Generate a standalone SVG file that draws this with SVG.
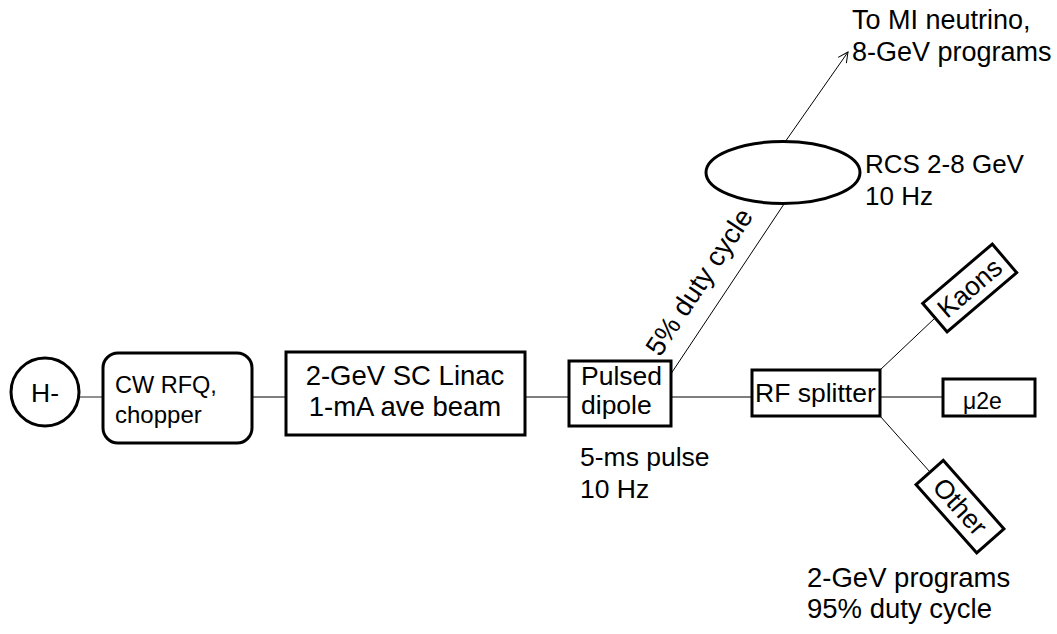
<svg xmlns="http://www.w3.org/2000/svg" width="1057" height="634" viewBox="0 0 1057 634">
<defs>
<style>
text{font-family:"Liberation Sans",Arial,sans-serif;font-size:26.5px;fill:#000}
.big{font-size:27.5px}
.box{fill:#fff;stroke:#000;stroke-width:3}
.ln{stroke:#555;stroke-width:1.3;fill:none}
.thin{stroke:#000;stroke-width:1;fill:none}
</style>
<marker id="arr" viewBox="0 0 12 12" refX="11" refY="6" markerWidth="12" markerHeight="12" markerUnits="userSpaceOnUse" orient="auto">
<path d="M1,1 L11,6 L1,11" fill="none" stroke="#000" stroke-width="1"/>
</marker>
</defs>
<rect width="1057" height="634" fill="#fff"/>
<g id="connectors">
<line class="ln" x1="79" y1="397" x2="103" y2="397"/>
<line class="ln" x1="252" y1="397" x2="286" y2="397"/>
<line class="ln" x1="525" y1="397" x2="569" y2="397"/>
<line class="ln" x1="671" y1="397" x2="752" y2="397"/>
<line class="ln" x1="880" y1="397" x2="943" y2="397"/>
<line class="thin" x1="671.5" y1="373" x2="784" y2="204"/>
<line class="thin" x1="785" y1="142" x2="848" y2="52" marker-end="url(#arr)"/>
<line class="thin" x1="880" y1="370" x2="935" y2="318"/>
<line class="thin" x1="880" y1="416" x2="930" y2="472"/>
</g>
<g id="h-minus">
<circle class="box" cx="45" cy="392" r="34"/>
<text x="45" y="402" text-anchor="middle">H-</text>
</g>
<g id="cw-rfq">
<rect class="box" x="103" y="353" width="149" height="90" rx="15"/>
<text x="115" y="393" style="font-size:23.5px">CW RFQ,</text>
<text x="115" y="423" style="font-size:24px">chopper</text>
</g>
<g id="linac">
<rect class="box" x="286" y="352" width="239" height="83"/>
<text class="big" x="405" y="385" text-anchor="middle">2-GeV SC Linac</text>
<text class="big" x="405" y="416" text-anchor="middle">1-mA ave beam</text>
</g>
<g id="pulsed-dipole">
<rect class="box" x="569" y="361" width="102" height="65"/>
<text x="581" y="385">Pulsed</text>
<text x="581" y="414">dipole</text>
<text x="580" y="466">5-ms pulse</text>
<text x="580" y="498">10 Hz</text>
</g>
<g id="duty-label">
<text class="big" x="707" y="287" text-anchor="middle" transform="rotate(-56.4 707 287)">5% duty cycle</text>
</g>
<g id="rcs">
<ellipse class="box" cx="783" cy="172.5" rx="77" ry="31"/>
<text x="865" y="173" style="font-size:26px">RCS 2-8 GeV</text>
<text x="865" y="205" style="font-size:26px">10 Hz</text>
</g>
<g id="mi-target">
<text x="852" y="29" style="font-size:27px">To MI neutrino,</text>
<text x="852" y="61" style="font-size:27px">8-GeV programs</text>
</g>
<g id="rf-splitter">
<rect class="box" x="752" y="370" width="128" height="46"/>
<text x="755" y="402">RF splitter</text>
</g>
<g id="kaons">
<g transform="translate(969.7 288) rotate(-40.4)">
<rect class="box" x="-45.7" y="-18.8" width="91.4" height="37.6"/>
<text x="0" y="9" text-anchor="middle">Kaons</text>
</g>
</g>
<g id="mu2e">
<rect class="box" x="943" y="379" width="92" height="37"/>
<text x="963" y="409" style="font-size:23px">μ2e</text>
</g>
<g id="other">
<g transform="translate(960 506.7) rotate(48.4)">
<rect class="box" x="-45.7" y="-18.2" width="91.4" height="36.4"/>
<text x="0" y="9" text-anchor="middle">Other</text>
</g>
</g>
<g id="two-gev">
<text class="big" x="807" y="587">2-GeV programs</text>
<text class="big" x="807" y="618">95% duty cycle</text>
</g>
</svg>
